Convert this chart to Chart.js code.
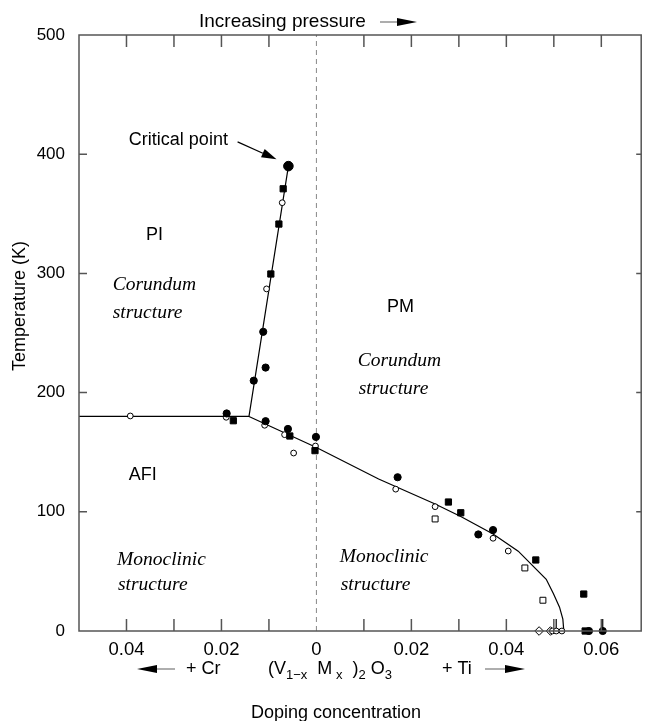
<!DOCTYPE html>
<html>
<head>
<meta charset="utf-8">
<script src="https://cdn.jsdelivr.net/npm/chart.js@4.4.1/dist/chart.umd.min.js"></script>
<style>
  html, body { margin: 0; padding: 0; background: #fff; }
  #wrap { width: 647px; height: 721px; position: relative; }
</style>
</head>
<body>
<div id="wrap"><canvas id="c"></canvas></div>
<script>
// ---- axis ticks ----
const Y_TICKS = [0, 100, 200, 300, 400, 500];
const X_TICKS = [-0.04, -0.03, -0.02, -0.01, 0, 0.01, 0.02, 0.03, 0.04, 0.05, 0.06];
const X_LABEL_AT = [-0.04, -0.02, 0, 0.02, 0.04, 0.06];
const X_LABEL_TEXT = ['0.04', '0.02', '0', '0.02', '0.04', '0.06'];

// ---- measured transition points [doping x (Cr < 0 < Ti), T (K)] ----
const criticalPoint = [[-0.0059, 390]];
const filledCircle = [
  [-0.0112, 251], [-0.0107, 221], [-0.0132, 210], [-0.0189, 182.5], [-0.0107, 176],
  [-0.0060, 169.5], [-0.0001, 162.8], [0.0171, 129], [0.0341, 81], [0.0372, 84.7],
  [0.0574, 0], [0.0603, 0]
];
const filledSquare = [
  [-0.0070, 371], [-0.0079, 341.4], [-0.0096, 299.5], [-0.0175, 176.4], [-0.0056, 163.6],
  [-0.0003, 151.3], [0.0278, 108.2], [0.0304, 99.2], [0.0462, 59.6], [0.0563, 31], [0.0566, 0]
];
const openCircle = [
  [-0.0072, 359.3], [-0.0105, 287], [-0.0392, 180.4], [-0.0190, 179.3], [-0.0109, 172.6],
  [-0.0067, 164.7], [-0.0048, 149.3], [-0.0002, 155.2], [0.0167, 119], [0.0250, 104.3],
  [0.0372, 77.8], [0.0404, 67.1], [0.0497, 0], [0.0505, 0], [0.0517, 0]
];
const openSquare = [[0.0250, 94], [0.0439, 52.9], [0.0477, 25.8]];
const openDiamond = [[0.0469, 0], [0.0493, 0]];
// short vertical markers rising from T = 0
const stemX = [0.0505, 0.0603];
const stemTop = 10;

// ---- phase boundaries ----
const firstOrderLine = [[-0.05, 180], [-0.0142, 180], [-0.0059, 390]];
const neelLine = [
  [-0.0142, 180], [0, 154], [0.0131, 127.5], [0.025, 106.6], [0.0304, 96], [0.0372, 81.4],
  [0.0425, 67], [0.0484, 43.4], [0.0499, 31.5], [0.0512, 20], [0.0519, 10], [0.0521, 0]
];

const SANS = '"Liberation Sans", Arial, Helvetica, sans-serif';
const SERIF = '"Liberation Serif", "Times New Roman", serif';

const pts = arr => arr.map(([x, y]) => ({ x, y }));

function markers(data, style, radius, fill) {
  return {
    type: 'scatter', data: pts(data), pointStyle: style,
    pointRadius: radius, pointHoverRadius: radius,
    pointBackgroundColor: fill, pointBorderColor: '#000', pointBorderWidth: 1,
    showLine: false, clip: false, order: 1
  };
}
function line(data, extra) {
  return Object.assign({
    type: 'scatter', data: pts(data), showLine: true, borderColor: '#000', borderWidth: 1.2,
    pointRadius: 0, pointHoverRadius: 0, tension: 0, fill: false, clip: false, order: 5
  }, extra || {});
}

const datasets = [
  markers(criticalPoint, 'circle', 4.8, '#000'),
  markers(filledCircle, 'circle', 3.6, '#000'),
  markers(filledSquare, 'rect', 4.4, '#000'),
  markers(openCircle, 'circle', 2.9, '#fff'),
  markers(openSquare, 'rect', 4.2, '#fff'),
  markers(openDiamond, 'rectRot', 4.3, '#fff'),
  line(firstOrderLine),
  line(neelLine),
  line([[0, 0], [0, 500]], { borderColor: '#888', borderWidth: 1, borderDash: [5, 4], order: 9 })
];
stemX.forEach(x => datasets.push(line([[x, 0], [x, stemTop]])));

function arrow(ctx, x1, y1, x2, y2, headLen, headHalf, shaftColor) {
  const ang = Math.atan2(y2 - y1, x2 - x1);
  const bx = x2 - headLen * Math.cos(ang), by = y2 - headLen * Math.sin(ang);
  ctx.strokeStyle = shaftColor; ctx.lineWidth = 1.2;
  ctx.beginPath(); ctx.moveTo(x1, y1); ctx.lineTo(bx, by); ctx.stroke();
  ctx.fillStyle = '#000';
  ctx.beginPath();
  ctx.moveTo(x2, y2);
  ctx.lineTo(bx + headHalf * Math.sin(ang), by - headHalf * Math.cos(ang));
  ctx.lineTo(bx - headHalf * Math.sin(ang), by + headHalf * Math.cos(ang));
  ctx.closePath(); ctx.fill();
}

// region labels placed in data coordinates
const regionLabels = [
  { t: 'PI', x: -0.0341, y: 332, f: `18px ${SANS}`, a: 'center' },
  { t: 'Corundum', x: -0.0429, y: 290, f: `italic 19.5px ${SERIF}`, a: 'left' },
  { t: 'structure', x: -0.0429, y: 266.5, f: `italic 19.5px ${SERIF}`, a: 'left' },
  { t: 'PM', x: 0.0177, y: 272, f: `18px ${SANS}`, a: 'center' },
  { t: 'Corundum', x: 0.0087, y: 227, f: `italic 19.5px ${SERIF}`, a: 'left' },
  { t: 'structure', x: 0.0089, y: 203, f: `italic 19.5px ${SERIF}`, a: 'left' },
  { t: 'AFI', x: -0.0366, y: 131, f: `18px ${SANS}`, a: 'center' },
  { t: 'Monoclinic', x: -0.0420, y: 60, f: `italic 19.5px ${SERIF}`, a: 'left' },
  { t: 'structure', x: -0.0418, y: 38.6, f: `italic 19.5px ${SERIF}`, a: 'left' },
  { t: 'Monoclinic', x: 0.0049, y: 62, f: `italic 19.5px ${SERIF}`, a: 'left' },
  { t: 'structure', x: 0.0051, y: 38.6, f: `italic 19.5px ${SERIF}`, a: 'left' },
  { t: 'Critical point', x: -0.0395, y: 412, f: `18px ${SANS}`, a: 'left' }
];

const decor = {
  id: 'decor',
  afterDatasetsDraw(chart) {
    const { ctx, chartArea: a, scales: { x, y } } = chart;
    ctx.save();
    // frame
    ctx.strokeStyle = '#555'; ctx.lineWidth = 1.5;
    ctx.strokeRect(a.left, a.top, a.right - a.left, a.bottom - a.top);
    // inward ticks
    ctx.beginPath();
    X_TICKS.forEach(v => {
      if (v === 0) return;
      const px = x.getPixelForValue(v);
      ctx.moveTo(px, a.bottom); ctx.lineTo(px, a.bottom - 12);
      ctx.moveTo(px, a.top); ctx.lineTo(px, a.top + 12);
    });
    Y_TICKS.forEach(v => {
      if (v === 0 || v === 500) return;
      const py = y.getPixelForValue(v);
      ctx.moveTo(a.left, py); ctx.lineTo(a.left + 8, py);
      ctx.moveTo(a.right, py); ctx.lineTo(a.right - 5, py);
    });
    ctx.stroke();

    // labels inside the plot
    ctx.fillStyle = '#000'; ctx.textBaseline = 'middle';
    regionLabels.forEach(l => {
      ctx.font = l.f; ctx.textAlign = l.a;
      ctx.fillText(l.t, x.getPixelForValue(l.x), y.getPixelForValue(l.y));
    });
    arrow(ctx, x.getPixelForValue(-0.0166), y.getPixelForValue(410.3),
               x.getPixelForValue(-0.0084), y.getPixelForValue(395.7), 15, 4.5, '#000');
    ctx.restore();
  },
  afterDraw(chart) {
    const { ctx } = chart;
    ctx.save();
    ctx.fillStyle = '#000'; ctx.textBaseline = 'middle';
    // top caption
    ctx.font = `19px ${SANS}`; ctx.textAlign = 'left';
    ctx.fillText('Increasing pressure', 199, 22);
    arrow(ctx, 380, 22, 417, 22, 20, 4, '#777');

    // y title
    ctx.save();
    ctx.translate(20, 306); ctx.rotate(-Math.PI / 2);
    ctx.textAlign = 'center'; ctx.font = `18px ${SANS}`;
    ctx.fillText('Temperature (K)', 0, 0);
    ctx.restore();

    // composition row
    const yr = 669;
    arrow(ctx, 175, yr, 137, yr, 20, 4, '#777');
    ctx.textAlign = 'left'; ctx.font = `18px ${SANS}`;
    ctx.fillText('+ Cr', 186, yr);
    ctx.fillText('+ Ti', 442, yr);
    arrow(ctx, 485, yr, 525, yr, 20, 4, '#777');
    const parts = [['(V', 0], ['1−x', 1], ['  M', 0], [' x', 1], ['  )', 0], ['2', 1], [' O', 0], ['3', 1]];
    let cx = 268;
    parts.forEach(([s, sub]) => {
      ctx.font = sub ? `13px ${SANS}` : `18px ${SANS}`;
      ctx.fillText(s, cx, sub ? yr + 6 : yr);
      cx += ctx.measureText(s).width;
    });

    // x title
    ctx.textAlign = 'center'; ctx.font = `18px ${SANS}`;
    ctx.fillText('Doping concentration', 336, 713);
    ctx.restore();
  }
};

new Chart(document.getElementById('c'), {
  type: 'scatter',
  data: { datasets },
  options: {
    responsive: true, maintainAspectRatio: false, animation: false,
    layout: { padding: { top: 35, right: 3, left: 0, bottom: 0 } },
    plugins: { legend: { display: false }, tooltip: { enabled: false } },
    scales: {
      x: {
        type: 'linear', min: -0.05, max: 0.0684,
        afterBuildTicks: s => { s.ticks = X_TICKS.map(v => ({ value: v })); },
        afterFit: s => { s.height = 90; },
        grid: { display: false, drawTicks: false }, border: { display: false },
        ticks: {
          autoSkip: false, maxRotation: 0, padding: 8, color: '#000',
          font: { family: SANS, size: 18.5 },
          callback: v => {
            const i = X_LABEL_AT.findIndex(t => Math.abs(t - v) < 1e-9);
            return i < 0 ? '' : X_LABEL_TEXT[i];
          }
        }
      },
      y: {
        type: 'linear', min: 0, max: 500,
        afterBuildTicks: s => { s.ticks = Y_TICKS.map(v => ({ value: v })); },
        afterFit: s => { s.width = 79; },
        grid: { display: false, drawTicks: false }, border: { display: false },
        ticks: { padding: 14, color: '#000', font: { family: SANS, size: 17 } }
      }
    }
  },
  plugins: [decor]
});
</script>
</body>
</html>
